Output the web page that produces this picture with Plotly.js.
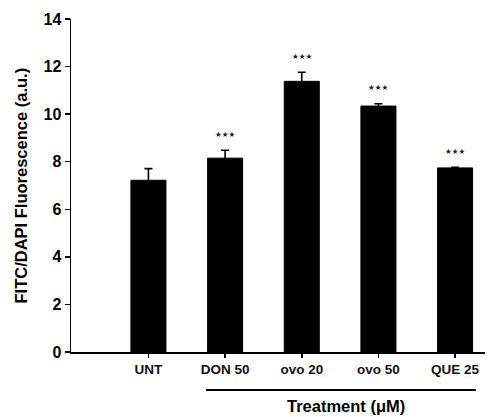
<!DOCTYPE html>
<html>
<head>
<meta charset="utf-8">
<script src="https://cdn.plot.ly/plotly-3.0.1.min.js"></script>
<style>html,body{margin:0;padding:0;background:#fff;}#chart{width:488px;height:417px;}</style>
</head>
<body>
<div id="chart"></div>
<script>
const categories = ['UNT', 'DON 50', 'ovo 20', 'ovo 50', 'QUE 25'];
const values = [7.22, 8.15, 11.38, 10.34, 7.74];
const errors = [0.49, 0.33, 0.38, 0.10, 0.02];
const significance = ['', '★★★', '★★★', '★★★', '★★★'];
const yTicks = [0, 2, 4, 6, 8, 10, 12, 14];

const FONT = 'Liberation Sans, Arial, sans-serif';
const trace = {
  type: 'bar',
  x: categories,
  y: values,
  marker: {color: '#000', line: {color: '#000', width: 1}},
  error_y: {type: 'data', array: errors, visible: true, color: '#000', thickness: 1.6, width: 4},
  hoverinfo: 'skip'
};

const annotations = categories.map((c, i) => ({
  x: c, y: values[i] + errors[i], xref: 'x', yref: 'y',
  text: significance[i], showarrow: false, yanchor: 'middle', yshift: 16,
  font: {family: 'DejaVu Sans, sans-serif', size: 7.5, color: '#1c1c30'}
})).filter((a, i) => significance[i] !== '');

annotations.push({
  xref: 'paper', yref: 'paper', x: 0, y: 0.5, xshift: -51, xanchor: 'center', yanchor: 'middle',
  text: '<b>FITC/DAPI Fluorescence (a.u.)</b>', textangle: -90, showarrow: false,
  font: {family: FONT, size: 16.5, color: '#000'}
});
annotations.push({
  xref: 'x', yref: 'paper', x: 2.58, y: 0, yshift: -54, xanchor: 'center', yanchor: 'middle',
  text: '<b>Treatment (μM)</b>', showarrow: false,
  font: {family: FONT, size: 16.5, color: '#000'}
});

const layout = {
  width: 488, height: 417,
  margin: {l: 71, r: 3, t: 19, b: 65, pad: 0},
  paper_bgcolor: '#fff', plot_bgcolor: '#fff',
  showlegend: false,
  bargap: 0.543,
  xaxis: {
    type: 'category', range: [-1.01, 4.39], fixedrange: true,
    showline: true, linecolor: '#000', linewidth: 1.5,
    ticks: 'outside', ticklen: 4, tickwidth: 1.5, tickcolor: '#000',
    tickfont: {family: FONT, size: 13.5, color: '#111'},
    tickprefix: '<b>', ticksuffix: '</b>',
    showgrid: false, zeroline: false
  },
  yaxis: {
    range: [0, 14], tickvals: yTicks, ticktext: yTicks.map(v => '<b>' + v + '</b>'),
    showline: true, linecolor: '#000', linewidth: 1.5,
    ticks: 'outside', ticklen: 5, tickwidth: 1.5, tickcolor: '#000',
    tickfont: {family: FONT, size: 16, color: '#000'},
    showgrid: false, zeroline: false, fixedrange: true
  },
  shapes: [{
    type: 'line', xref: 'x', yref: 'paper', x0: 0.75, x1: 4.27, y0: 0, y1: 0,
    line: {color: '#000', width: 1.8}
  }],
  annotations: annotations
};

const plotH = 417 - 19 - 65;
layout.shapes[0].y0 = -38 / plotH;
layout.shapes[0].y1 = -38 / plotH;

Plotly.newPlot('chart', [trace], layout, {displayModeBar: false, staticPlot: true});
</script>
</body>
</html>
